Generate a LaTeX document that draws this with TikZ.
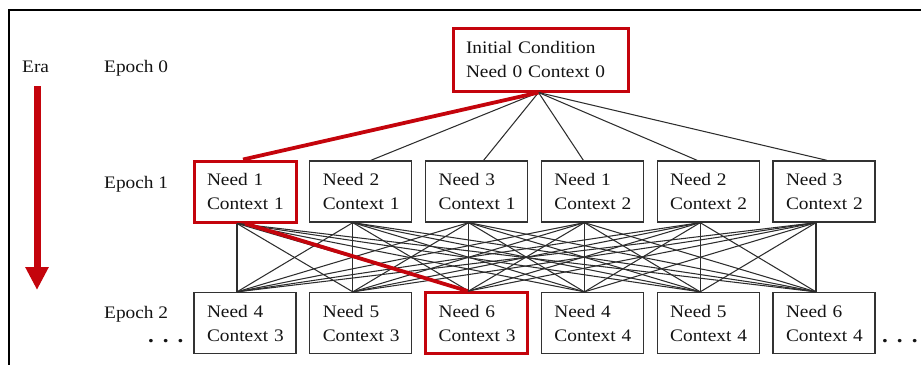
\documentclass[tikz,border=0pt]{standalone}
\usepackage{fontspec}
\setmainfont[FakeStretch=1.1]{Liberation Serif}
\usetikzlibrary{arrows.meta}
\definecolor{hired}{RGB}{196,4,12}
\definecolor{linegray}{RGB}{45,45,45}
\definecolor{boxgray}{RGB}{50,50,50}
\tikzset{
  txt/.style={font=\fontsize{17.6}{24}\selectfont, text=black!92},
  box/.style={txt, draw=boxgray, line width=1.3pt, fill=white, minimum height=61pt,
    minimum width=102pt, text width=88pt, inner xsep=7pt, inner ysep=0pt, align=left},
  hibox/.style={box, draw=hired, line width=3pt},
  conn/.style={draw=linegray, line width=1.05pt},
  hiconn/.style={draw=hired, line width=3.8pt},
  lbl/.style={txt, anchor=base west, inner sep=0pt},
  dots/.style={lbl, font=\fontsize{21}{24}\bfseries\selectfont},
}
\begin{document}
\begin{tikzpicture}[x=1pt,y=-1pt]
\useasboundingbox (0,0) rectangle (921,365);
% frame
\coordinate (fr1) at (921,10);
\coordinate (fr2) at (9,10);
\coordinate (fr3) at (9,365);
\draw[line width=2.2pt, black] (fr1) -- (fr2) -- (fr3);

% labels
\node[lbl] (era) at (22,72) {Era};
\node[lbl] (ep0) at (104,72) {Epoch 0};
\node[lbl] (ep1) at (104,188) {Epoch 1};
\node[lbl] (ep2) at (104,318) {Epoch 2};
\node[dots] (dotsl) at (148,342) {.\hspace{9pt}.\hspace{9pt}.};
\node[dots] (dotsr) at (882,342) {.\hspace{9pt}.\hspace{9pt}.};

% era arrow
\coordinate (arA) at (37,86);
\coordinate (arB) at (37,290);
\draw[hired, line width=7pt, -{Triangle[width=22pt,length=23pt]}] (arA) -- (arB);

% boxes
\node[hibox, text width=149pt, inner xsep=13pt, minimum width=175pt, minimum height=63pt] (init) at (540.5,59.5) {Initial Condition\\Need 0 Context 0};

\node[hibox] (a1) at (245,191.5) {\hspace*{6pt}Need 1\\\hspace*{6pt}Context 1};
\node[box]   (a2) at (360.8,191.5) {\hspace*{6pt}Need 2\\\hspace*{6pt}Context 1};
\node[box]   (a3) at (476.6,191.5) {\hspace*{6pt}Need 3\\\hspace*{6pt}Context 1};
\node[box]   (a4) at (592.4,191.5) {\hspace*{6pt}Need 1\\\hspace*{6pt}Context 2};
\node[box]   (a5) at (708.2,191.5) {\hspace*{6pt}Need 2\\\hspace*{6pt}Context 2};
\node[box]   (a6) at (824,191.5) {\hspace*{6pt}Need 3\\\hspace*{6pt}Context 2};

\node[box]   (b1) at (245,323) {\hspace*{6pt}Need 4\\\hspace*{6pt}Context 3};
\node[box]   (b2) at (360.8,323) {\hspace*{6pt}Need 5\\\hspace*{6pt}Context 3};
\node[hibox] (b3) at (476.6,323) {\hspace*{6pt}Need 6\\\hspace*{6pt}Context 3};
\node[box]   (b4) at (592.4,323) {\hspace*{6pt}Need 4\\\hspace*{6pt}Context 4};
\node[box]   (b5) at (708.2,323) {\hspace*{6pt}Need 5\\\hspace*{6pt}Context 4};
\node[box]   (b6) at (824,323) {\hspace*{6pt}Need 6\\\hspace*{6pt}Context 4};

% connectors epoch 0 -> epoch 1
\foreach \i/\o in {2/10,3/7,4/-9,5/-11,6/3}
  \draw[conn] ([xshift=-2pt]init.south) -- ([xshift=\o pt]a\i.north);
% connectors epoch 1 -> epoch 2
\foreach \i in {1,...,6}
  \foreach \j in {1,...,6}
    \draw[conn] ([xshift=-8pt]a\i.south) -- ([xshift=-8pt]b\j.north);
% highlighted path
\draw[hiconn] ([xshift=-2pt]init.south) -- ([xshift=-2pt]a1.north);
\draw[hiconn] (a1.south) -- ([xshift=-9pt]b3.north);
\end{tikzpicture}
\end{document}
